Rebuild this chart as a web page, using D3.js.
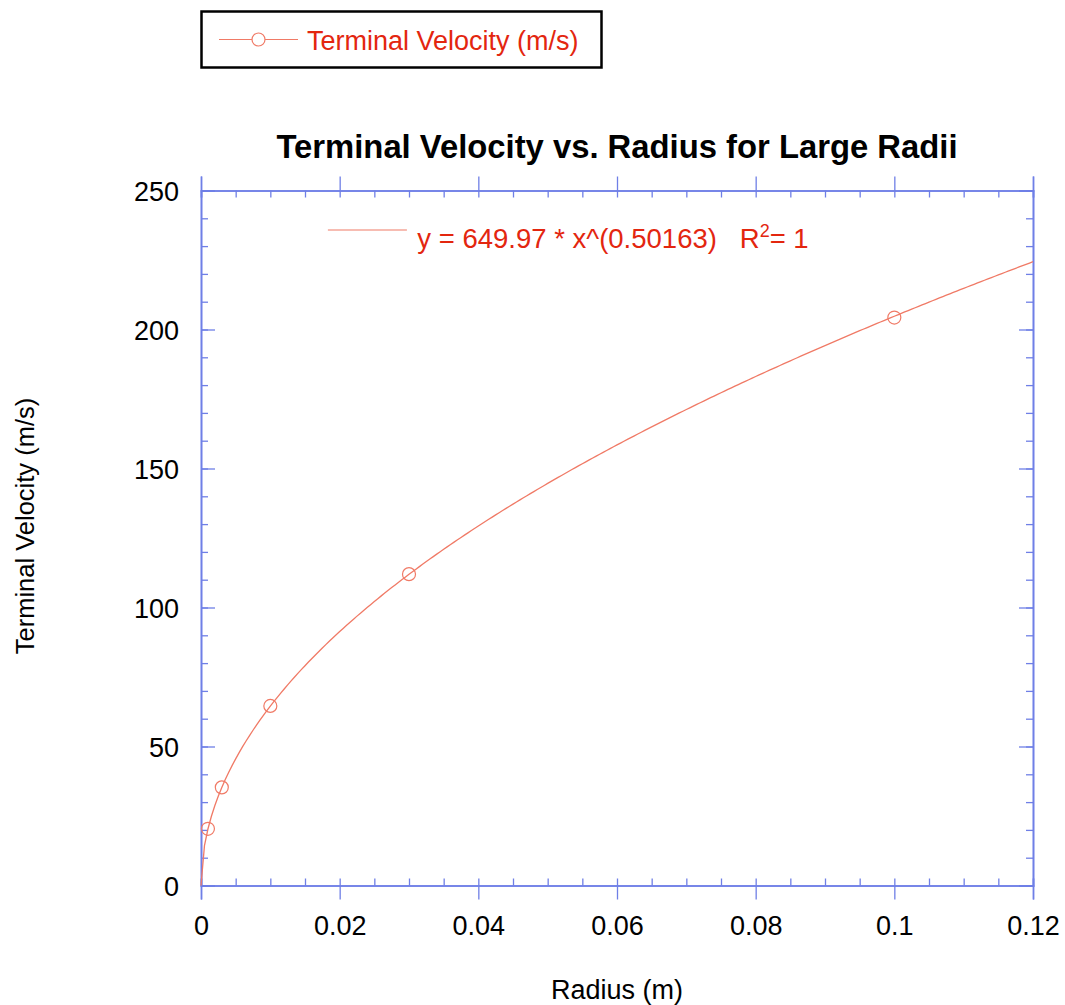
<!DOCTYPE html>
<html>
<head>
<meta charset="utf-8">
<script src="https://cdn.jsdelivr.net/npm/d3@7"></script>
<style>
  body { margin: 0; background: #fff; }
  text { font-family: "Liberation Sans", Arial, sans-serif; }
</style>
</head>
<body>
<div id="chart-area"></div>
<script>
// data
var radius = [0.001, 0.003, 0.01, 0.03, 0.1];
var velocity = [20.4, 35.3, 64.6, 112.0, 204.3];

// power fit shown on the chart
var fitA = 649.97;
var fitB = 0.50163;

var xTicks = [0, 0.02, 0.04, 0.06, 0.08, 0.1, 0.12];
var xTickLabels = ["0", "0.02", "0.04", "0.06", "0.08", "0.1", "0.12"];
var yTicks = [0, 50, 100, 150, 200, 250];
var yTickLabels = ["0", "50", "100", "150", "200", "250"];

var seriesName = "Terminal Velocity (m/s)";

var red = "#e3260f";
var lineRed = "#f07a66";
var axisBlue = "#6f7fe6";

// setting up SVG drawing area
var margin = { top: 190.5, right: 32, bottom: 119.5, left: 201 };
var fullWidth = 1065;
var fullHeight = 1005;
var width = fullWidth - margin.left - margin.right;
var height = fullHeight - margin.top - margin.bottom;

var root = d3
  .select("#chart-area")
  .append("svg")
  .attr("width", fullWidth)
  .attr("height", fullHeight);

var svg = root
  .append("g")
  .attr("transform", `translate(${margin.left}, ${margin.top})`);

// scales
var x = d3.scaleLinear().domain([0, 0.12]).range([0, width]);
var y = d3.scaleLinear().domain([0, 250]).range([height, 0]);

var xMinor = d3.range(0, 0.12 + 1e-9, 0.005);
var yMinor = d3.range(0, 250 + 1e-9, 10);

// axes: minor ticks inward, x majors outward, y majors inward
function xAxisGroup(gen, ty, cls) {
  svg
    .append("g")
    .attr("class", cls)
    .attr("transform", `translate(0, ${ty})`)
    .call(gen);
}

xAxisGroup(d3.axisBottom(x).tickValues(xMinor).tickSize(-7).tickFormat(""), height, "x-minor");
xAxisGroup(d3.axisTop(x).tickValues(xMinor).tickSize(-7).tickFormat(""), 0, "x-minor");
xAxisGroup(d3.axisTop(x).tickValues(xTicks).tickSize(14).tickFormat(""), 0, "x-major");
xAxisGroup(
  d3.axisBottom(x)
    .tickValues(xTicks)
    .tickSize(14)
    .tickPadding(16)
    .tickFormat((d, i) => xTickLabels[i]),
  height,
  "x-axis"
);

svg
  .append("g")
  .attr("class", "y-minor")
  .call(d3.axisLeft(y).tickValues(yMinor).tickSize(-7).tickFormat(""));
svg
  .append("g")
  .attr("class", "y-minor")
  .attr("transform", `translate(${width}, 0)`)
  .call(d3.axisRight(y).tickValues(yMinor).tickSize(-7).tickFormat(""));
svg
  .append("g")
  .attr("class", "y-major")
  .attr("transform", `translate(${width}, 0)`)
  .call(d3.axisRight(y).tickValues(yTicks).tickSize(-14).tickFormat(""));
svg
  .append("g")
  .attr("class", "y-axis")
  .call(
    d3.axisLeft(y)
      .tickValues(yTicks)
      .tickSize(-14)
      .tickPadding(22)
      .tickFormat((d, i) => yTickLabels[i])
  );

svg.selectAll(".domain").attr("stroke", axisBlue).attr("stroke-width", 1.6);
svg.selectAll(".tick line").attr("stroke", axisBlue).attr("stroke-width", 1.3);
svg
  .selectAll(".tick text")
  .attr("fill", "#000")
  .style("font-size", "27px")
  .style("font-family", "Liberation Sans, Arial, sans-serif");
svg.selectAll(".y-axis .tick text").attr("dy", "0.36em");

// fit curve
var fitX = d3.range(0, 0.12 + 1e-9, 0.0005);
var fitLine = d3
  .line()
  .x((d) => x(d))
  .y((d) => y(fitA * Math.pow(d, fitB)));

svg
  .append("path")
  .datum(fitX)
  .attr("fill", "none")
  .attr("stroke", lineRed)
  .attr("stroke-width", 1.3)
  .attr("d", fitLine);

// markers
svg
  .selectAll(".pt")
  .data(radius)
  .join("circle")
  .attr("class", "pt")
  .attr("cx", (d) => x(d))
  .attr("cy", (d, i) => y(velocity[i]))
  .attr("r", 6.5)
  .attr("fill", "none")
  .attr("stroke", lineRed)
  .attr("stroke-width", 1.2);

// fit equation label
svg
  .append("line")
  .attr("x1", x(0.0183))
  .attr("x2", x(0.0297))
  .attr("y1", y(235.8))
  .attr("y2", y(235.8))
  .attr("stroke", lineRed)
  .attr("stroke-width", 1.2);

var eq = svg
  .append("text")
  .attr("x", x(0.0312))
  .attr("y", y(229.4))
  .attr("fill", red)
  .style("font-size", "27.5px")
  .attr("xml:space", "preserve");
eq.append("tspan").text(`y = ${fitA} * x^(${fitB})   R`);
eq.append("tspan").attr("dy", -11).style("font-size", "18px").text("2");
eq.append("tspan").attr("dy", 11).text("= 1");

// title
root
  .append("text")
  .attr("x", margin.left + width / 2)
  .attr("y", 158)
  .attr("text-anchor", "middle")
  .style("font-size", "32.8px")
  .style("font-weight", "bold")
  .text("Terminal Velocity vs. Radius for Large Radii");

// axis titles
root
  .append("text")
  .attr("x", margin.left + width / 2)
  .attr("y", 999)
  .attr("text-anchor", "middle")
  .style("font-size", "27px")
  .text("Radius (m)");

root
  .append("text")
  .attr("transform", `translate(34, ${526}) rotate(-90)`)
  .attr("text-anchor", "middle")
  .style("font-size", "25.5px")
  .text(seriesName);

// legend
var legend = root.append("g").attr("class", "legend");
legend
  .append("rect")
  .attr("x", 201.5)
  .attr("y", 11.5)
  .attr("width", 400)
  .attr("height", 56)
  .attr("fill", "#fff")
  .attr("stroke", "#000")
  .attr("stroke-width", 2.5);
legend
  .append("line")
  .attr("x1", 219)
  .attr("x2", 298)
  .attr("y1", 39.5)
  .attr("y2", 39.5)
  .attr("stroke", lineRed)
  .attr("stroke-width", 1.2);
legend
  .append("circle")
  .attr("cx", 258.5)
  .attr("cy", 39.5)
  .attr("r", 6.5)
  .attr("fill", "#fff")
  .attr("stroke", lineRed)
  .attr("stroke-width", 1.2);
legend
  .append("text")
  .attr("x", 307)
  .attr("y", 50)
  .attr("fill", red)
  .style("font-size", "27px")
  .text(seriesName);
</script>
</body>
</html>
